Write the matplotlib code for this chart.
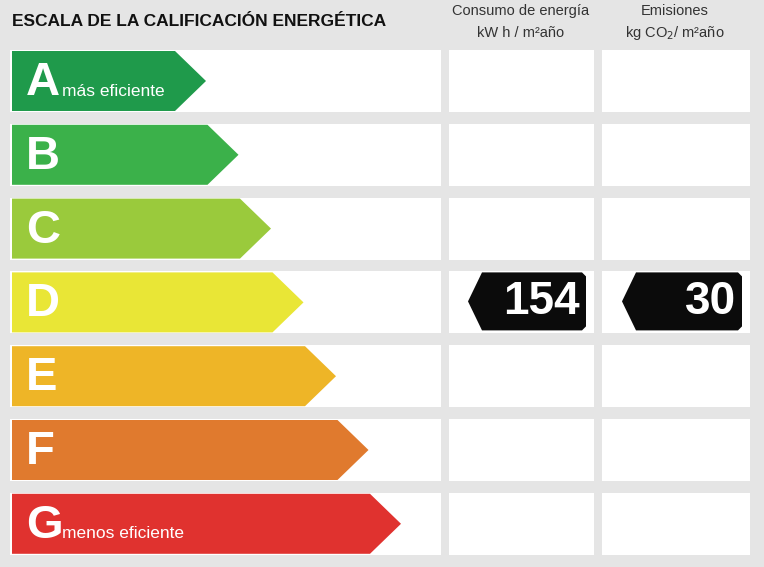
import matplotlib
matplotlib.use("Agg")
import matplotlib.pyplot as plt
from matplotlib.patches import Polygon, Rectangle

letters = ["A", "B", "C", "D", "E", "F", "G"]
colors = ["#1f9a4b", "#3bb14a", "#9aca3c", "#e9e636", "#eeb527", "#e07a2e", "#e0322f"]
subtitles = {"A": "más eficiente", "G": "menos eficiente"}
rating = "D"
consumo = 154
emisiones = 30
title = "ESCALA DE LA CALIFICACIÓN ENERGÉTICA"
col2_head = ["Consumo de energía", "kW h / m²año"]
col3_head = ["Emisiones", "kg CO$_2$/ m²año"]

FN = ["Liberation Sans Narrow", "Liberation Sans", "DejaVu Sans"]
W, H = 764, 567
fig = plt.figure(figsize=(W/100, H/100), dpi=100)
ax = fig.add_axes([0, 0, 1, 1])
ax.set_xlim(0, W); ax.set_ylim(H, 0); ax.axis("off")
fig.patch.set_facecolor("#e5e5e5")

ax.text(12, 22, title, fontsize=12.5, fontweight="bold", family=FN, va="center", ha="left", color="#111")
for i, t in enumerate(col2_head):
    ax.text(521, 11 + i*22, t, fontsize=10.5, family=FN, ha="center", va="center", color="#333")
ax.text(675, 11, col3_head[0], fontsize=10.5, family=FN, ha="center", va="center", color="#333")
ax.text(675, 33, col3_head[1], fontsize=10.5, family=FN, ha="center", va="center", color="#333")

top0, pitch, rh = 50, 73.8, 62
for i, (L, c) in enumerate(zip(letters, colors)):
    y0 = top0 + i*pitch
    for x0, x1 in [(10, 441), (449, 594), (602, 750)]:
        ax.add_patch(Rectangle((x0, y0), x1-x0, rh, fc="white", ec="none"))
    tip = 206 + i*32.5
    ym = y0 + rh/2
    yt, yb = y0 + 1, y0 + rh - 1
    ax.add_patch(Polygon([(12, yt), (tip-31, yt), (tip, ym), (tip-31, yb), (12, yb)],
                         closed=True, fc=c, ec="none"))
    ax.text(26, ym + 2, L, fontsize=34, fontweight="bold", family=FN, color="white",
            ha="left", va="center")
    if L in subtitles:
        ax.text(62, ym + 10, subtitles[L], fontsize=12.5, family=FN, color="white",
                ha="left", va="center")
    if L == rating:
        for (bx0, bx1, val) in [(468, 586, consumo), (622, 742, emisiones)]:
            yt2, yb2 = y0 + 1, y0 + rh - 3
            ax.add_patch(Polygon([(bx0+14, yt2), (bx1-4, yt2), (bx1, yt2+4), (bx1, yb2-4),
                                  (bx1-4, yb2), (bx0+14, yb2), (bx0, (yt2+yb2)/2)],
                                 closed=True, fc="#0b0b0b", ec="none"))
            ax.text(bx1 - 6, (yt2+yb2)/2 + 1, str(val), fontsize=33, fontweight="bold",
                    family=["Liberation Sans", "DejaVu Sans"], color="white", ha="right", va="center")

fig.savefig("out.png", dpi=100, facecolor=fig.get_facecolor())
